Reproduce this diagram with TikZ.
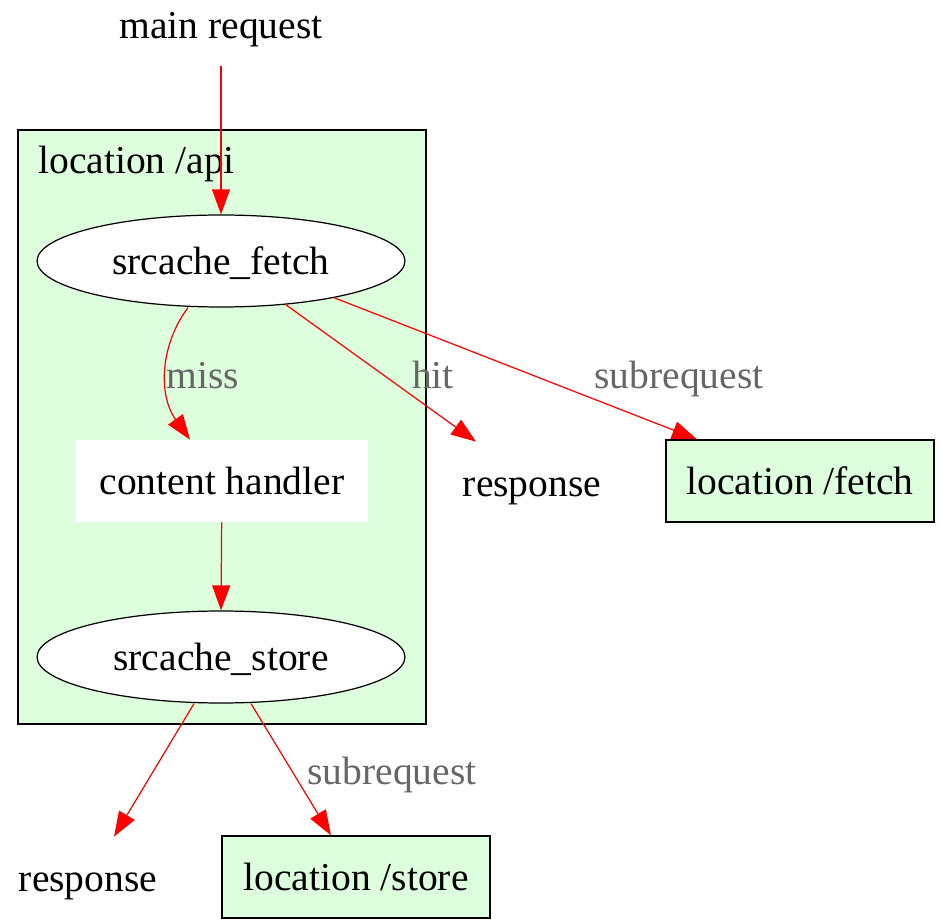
\documentclass[tikz,border=0pt]{standalone}
\usepackage{fontspec}
\setmainfont{Liberation Serif}
\usetikzlibrary{arrows.meta, shapes.geometric}
\definecolor{clustergreen}{RGB}{221,255,221}
\definecolor{edgered}{RGB}{255,0,0}
\definecolor{labelgray}{RGB}{102,102,102}

\begin{document}
\begin{tikzpicture}[x=0.02cm, y=-0.02cm, font=\fontsize{22.5}{27}\selectfont,
  every node/.append style={text height=0.70cm, text depth=0.14cm},
  plain/.style={inner sep=0, minimum height=1.64cm},
  phase/.style={draw, ellipse, fill=white, line width=0.7pt, inner sep=0,
    minimum width=7.36cm, minimum height=1.84cm},
  locbox/.style={draw, fill=clustergreen, line width=0.8pt, inner sep=0,
    minimum width=5.36cm, minimum height=1.64cm},
  edge/.style={draw=edgered, line width=0.7pt,
    -{Triangle[length=0.5cm, width=0.36cm, fill=edgered]}},
  lbl/.style={text=labelgray, inner sep=0}]
  \useasboundingbox (0,0) rectangle (941,922);
  \draw[fill=clustergreen, line width=0.8pt] (18,130) rectangle (426,724);
  \node[anchor=west, inner sep=0] (apilbl) at (38,160) {location /api};
  \node[plain] (main) at (221,25) {main request};
  \node[phase] (fetch) at (221,261) {srcache\_fetch};
  \node[plain, fill=white, minimum width=5.84cm] (handler) at (222,481) {content handler};
  \node[phase] (store) at (221,657) {srcache\_store};
  \node[plain] (resp1) at (532,483) {response};
  \node[locbox] (locfetch) at (800,481) {location /fetch};
  \node[plain] (resp2) at (88,878) {response};
  \node[locbox] (locstore) at (356,877) {location /store};
  \draw[edge] (main) -- (fetch.north);
  \draw[edge] ([xshift=-0.66cm]fetch.south) .. controls (160,345) and (158,395) .. ([xshift=-0.64cm]handler.north);
  \draw[edge] (fetch.-34.5) -- ([xshift=-1.12cm]resp1.north);
  \draw[edge] (fetch.-18.7) -- ([xshift=-2.06cm]locfetch.north);
  \draw[edge] (handler) -- (store.north);
  \draw[edge] ([xshift=-0.54cm]store.south) -- ([xshift=0.52cm]resp2.north);
  \draw[edge] ([xshift=0.6cm]store.south) -- ([xshift=-0.5cm]locstore.north);
  \node[lbl] (misslbl) at (203,375) {miss};
  \node[lbl] (hitlbl) at (433,375) {hit};
  \node[lbl] (fetchlbl) at (679,375) {subrequest};
  \node[lbl] (storelbl) at (392,771) {subrequest};
\end{tikzpicture}
\end{document}
